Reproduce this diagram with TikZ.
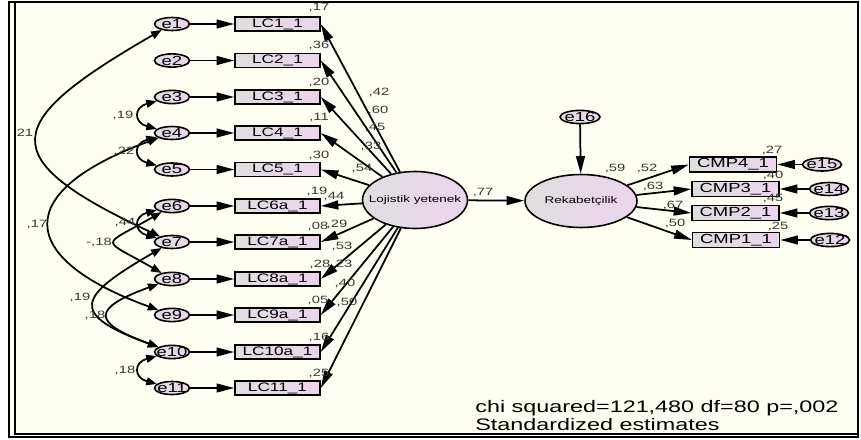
\documentclass[tikz,border=0pt]{standalone}
\usepackage{fontspec}
\newfontfamily\amosfont[FakeStretch=1.4]{Liberation Sans}
\usetikzlibrary{arrows.meta,shapes.geometric}
\definecolor{paper}  {RGB}{254,254,242}
\definecolor{boxgrey}{RGB}{222,222,222}
\definecolor{boxpink}{RGB}{236,212,236}
\definecolor{numgrey}{RGB}{55,55,55}
\tikzset{ % Setup for the path diagram
zerowidth/.style={execute at begin node={\hbox to 0pt\bgroup\hss}, execute at end node={\hss\egroup}},
errvar/.style={ellipse, draw, line width=0.9pt, left color=boxgrey, right color=boxpink, minimum width=0.7cm, minimum height=0.26cm, inner sep=0pt, font=\amosfont\fontsize{7.5}{7.5}\selectfont, zerowidth},
indicator/.style={rectangle, draw, line width=0.9pt, left color=boxgrey, right color=boxpink, minimum width=1.7cm, minimum height=0.28cm, inner sep=0pt, font=\amosfont\fontsize{7}{7}\selectfont},
latent/.style={ellipse, draw, line width=0.9pt, left color=boxgrey, right color=boxpink, inner sep=0pt, font=\amosfont\fontsize{5.5}{5.5}\selectfont, zerowidth},
est/.style={font=\amosfont\fontsize{6}{6}\selectfont, text=numgrey, inner sep=0pt},
load/.style={draw, line width=1pt, -{Triangle[length=10pt,width=5pt]}},
corr/.style={draw, line width=1pt, {Triangle[length=6pt,width=4.5pt]}-{Triangle[length=6pt,width=4.5pt]}},
}

\begin{document}
\begin{tikzpicture}[x=0.02cm, y=0.02cm]
\useasboundingbox (0,0) rectangle (861,-439);
\fill[paper] (9,-2) rectangle (858,-437);

% error terms and indicators of the first factor
\node[errvar] (e1) at (172,-24) {e1};
\node[errvar] (e2) at (172,-60.5) {e2};
\node[errvar] (e3) at (172,-97) {e3};
\node[errvar] (e4) at (172,-133) {e4};
\node[errvar] (e5) at (172,-169.5) {e5};
\node[errvar] (e6) at (172,-206) {e6};
\node[errvar] (e7) at (172,-242) {e7};
\node[errvar] (e8) at (172,-279) {e8};
\node[errvar] (e9) at (172,-315) {e9};
\node[errvar] (e10) at (172,-352) {e10};
\node[errvar] (e11) at (172,-388) {e11};

\node[indicator] (lc1) at (277.5,-24) {LC1\_1};
\node[indicator] (lc2) at (277.5,-60.5) {LC2\_1};
\node[indicator] (lc3) at (277.5,-97) {LC3\_1};
\node[indicator] (lc4) at (277.5,-133) {LC4\_1};
\node[indicator] (lc5) at (277.5,-169.5) {LC5\_1};
\node[indicator] (lc6) at (277.5,-206) {LC6a\_1};
\node[indicator] (lc7) at (277.5,-242) {LC7a\_1};
\node[indicator] (lc8) at (277.5,-279) {LC8a\_1};
\node[indicator] (lc9) at (277.5,-315) {LC9a\_1};
\node[indicator] (lc10) at (277.5,-352) {LC10a\_1};
\node[indicator] (lc11) at (277.5,-388) {LC11\_1};

% latent variables
\node[latent, minimum width=2.1cm, minimum height=1.14cm] (loj) at (415,-200) {Lojistik yetenek};
\node[latent, minimum width=2.24cm, minimum height=1.06cm] (rek) at (581,-201) {Rekabet\c{c}ilik};
\node[errvar, minimum width=0.8cm] (e16) at (580,-117) {e16};

% indicators of the second factor
\node[indicator, minimum width=1.74cm, minimum height=0.3cm, font=\amosfont\fontsize{7.5}{7.5}\selectfont] (cmp4) at (733,-164.5) {CMP4\_1};
\node[indicator, minimum width=1.74cm, minimum height=0.3cm, font=\amosfont\fontsize{7.5}{7.5}\selectfont] (cmp3) at (735.5,-189) {CMP3\_1};
\node[indicator, minimum width=1.74cm, minimum height=0.3cm, font=\amosfont\fontsize{7.5}{7.5}\selectfont] (cmp2) at (735.5,-213) {CMP2\_1};
\node[indicator, minimum width=1.74cm, minimum height=0.3cm, font=\amosfont\fontsize{7.5}{7.5}\selectfont] (cmp1) at (736,-240) {CMP1\_1};
\node[errvar, minimum width=0.78cm] (e15) at (822,-164.5) {e15};
\node[errvar, minimum width=0.78cm] (e14) at (829,-189) {e14};
\node[errvar, minimum width=0.78cm] (e13) at (829,-213) {e13};
\node[errvar, minimum width=0.78cm] (e12) at (830,-240) {e12};

% regression paths
\foreach \i in {1,...,11} {
  \draw[load] (e\i) -- (lc\i);
  \draw[load] (loj) -- (lc\i.east);
}
\draw[load] (loj) -- (rek);
\draw[load] (e16) -- (rek);
\foreach \j in {1,...,4} {
  \draw[load] (rek) -- (cmp\j.west);
}
\draw[load] (e15) -- (cmp4);
\draw[load] (e14) -- (cmp3);
\draw[load] (e13) -- (cmp2);
\draw[load] (e12) -- (cmp1);

% covariances between error terms
\draw[corr] (e1) to[out=210,in=155,looseness=2.3] (e7);
\draw[corr] (e4) to[out=200,in=160,looseness=2.3] (e9);
\draw[corr] (e6) to[out=210,in=150,looseness=3] (e8);
\draw[corr] (e7) to[out=210,in=160,looseness=2.5] (e10);
\draw[corr] (e8) to[out=200,in=160,looseness=2.9] (e10);
\draw[corr] (e3) to[out=195,in=165,looseness=2.2] (e4);
\draw[corr] (e4) to[out=195,in=165,looseness=2.2] (e5);
\draw[corr] (e6) to[out=195,in=165,looseness=2.2] (e7);
\draw[corr] (e10) to[out=195,in=165,looseness=2.2] (e11);

% estimates
\node[est] (r1) at (319,-8) {,17};
\node[est] (r2) at (319,-45) {,36};
\node[est] (r3) at (319,-82) {,20};
\node[est] (r4) at (319,-118) {,11};
\node[est] (r5) at (319,-155) {,30};
\node[est] (r6) at (317,-191) {,19};
\node[est] (r7) at (318,-226) {,08};
\node[est] (r8) at (320,-264) {,28};
\node[est] (r9) at (318,-300) {,05};
\node[est] (r10) at (319,-337) {,16};
\node[est] (r11) at (319,-373) {,25};

\node[est] (l1) at (379,-92) {,42};
\node[est] (l2) at (378,-110) {,60};
\node[est] (l3) at (375,-128) {,45};
\node[est] (l4) at (371,-146) {,33};
\node[est] (l5) at (362,-169) {,54};
\node[est] (l6) at (334,-197) {,44};
\node[est] (l7) at (337,-224) {,29};
\node[est] (l8) at (342,-246) {,53};
\node[est] (l9) at (342,-264) {,23};
\node[est] (l10) at (345,-283) {,40};
\node[est] (l11) at (347,-302) {,50};

\node[est] (b77) at (483,-193) {,77};
\node[est] (r59) at (615,-168) {,59};
\node[est] (g52) at (647,-168) {,52};
\node[est] (g63) at (653,-186) {,63};
\node[est] (g67) at (673,-205) {,67};
\node[est] (g50) at (675,-223) {,50};
\node[est] (q27) at (772,-150) {,27};
\node[est] (q40) at (773,-175) {,40};
\node[est] (q45) at (773,-199) {,45};
\node[est] (q25) at (778,-226) {,25};

\node[est] (c1) at (25,-133) {21};
\node[est] (c2) at (123,-115) {,19};
\node[est] (c3) at (124,-151) {,22};
\node[est] (c4) at (37,-225) {,17};
\node[est] (c5) at (125,-223) {,44};
\node[est] (c6) at (99,-242) {-,18};
\node[est] (c7) at (80,-297) {,19};
\node[est] (c8) at (95,-315) {,18};
\node[est] (c9) at (125,-370) {,18};

% fit
\node[anchor=base west, inner sep=0pt, font=\amosfont\fontsize{9.5}{9.5}\selectfont] (chi) at (475,-412) {chi squared=121,480 df=80 p=,002};
\node[anchor=base west, inner sep=0pt, font=\amosfont\fontsize{9.5}{9.5}\selectfont] (std) at (475,-430) {Standardized estimates};

% frame
\draw[line width=1.5pt] (9,-2) rectangle (858,-437);
\draw[line width=1.5pt] (15,-2) -- (15,-434) -- (858,-434);
\end{tikzpicture}
\end{document}
